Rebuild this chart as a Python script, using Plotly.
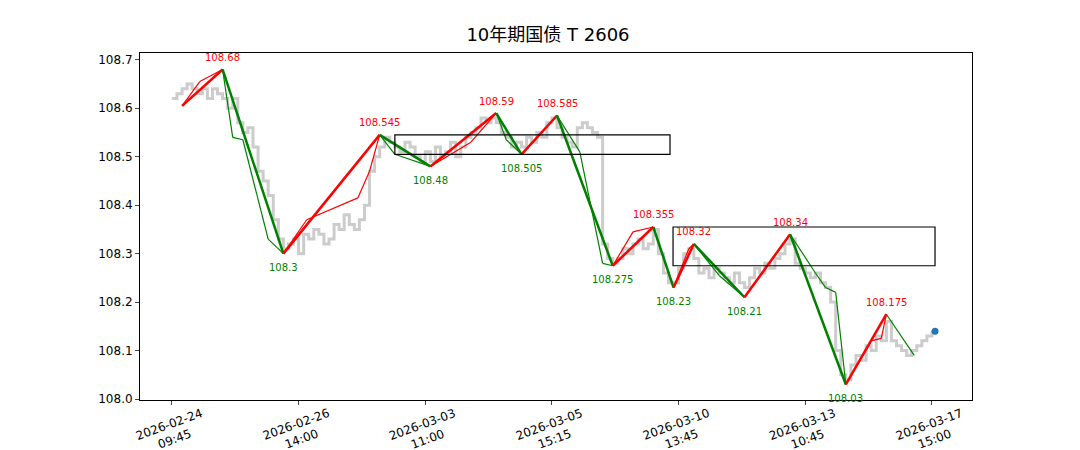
import plotly.graph_objects as go

# gray price series (one value per bar)
closes = [108.62, 108.63, 108.64, 108.65, 108.64, 108.63, 108.64, 108.62, 108.64, 108.63,
          108.62, 108.60, 108.62, 108.57, 108.55, 108.56, 108.52, 108.47, 108.45, 108.42,
          108.37, 108.33, 108.31, 108.32, 108.33, 108.30, 108.34, 108.33, 108.35, 108.34,
          108.32, 108.33, 108.36, 108.35, 108.38, 108.36, 108.35, 108.37, 108.40, 108.47,
          108.50, 108.52, 108.54, 108.53, 108.52, 108.51, 108.53, 108.52, 108.50, 108.49,
          108.51, 108.49, 108.52, 108.50, 108.51, 108.53, 108.50, 108.52, 108.54, 108.55,
          108.56, 108.58, 108.57, 108.58, 108.57, 108.55, 108.54, 108.52, 108.53, 108.52,
          108.54, 108.53, 108.55, 108.54, 108.57, 108.58, 108.56, 108.54, 108.53, 108.52,
          108.56, 108.57, 108.56, 108.55, 108.54, 108.32, 108.29, 108.28, 108.29, 108.31,
          108.30, 108.32, 108.33, 108.31, 108.32, 108.35, 108.30, 108.26, 108.24, 108.24,
          108.27, 108.30, 108.31, 108.29, 108.26, 108.27, 108.25, 108.27, 108.26, 108.25,
          108.24, 108.26, 108.24, 108.23, 108.25, 108.27, 108.26, 108.28, 108.27, 108.29,
          108.30, 108.32, 108.33, 108.28, 108.27, 108.26, 108.25, 108.26, 108.24, 108.23,
          108.20, 108.10, 108.05, 108.04, 108.07, 108.09, 108.08, 108.11, 108.10, 108.13,
          108.12, 108.16, 108.12, 108.11, 108.10, 108.09, 108.10, 108.11, 108.12, 108.13,
          108.14]
bar_idx = list(range(len(closes)))

# main zigzag pivots
piv_x = [2, 10, 22, 41, 51, 64, 69, 76, 87, 95, 99, 103, 113, 122, 133, 141]
piv_y = [108.605, 108.68, 108.3, 108.545, 108.48, 108.59, 108.505, 108.585,
         108.275, 108.355, 108.23, 108.32, 108.21, 108.34, 108.03, 108.175]

# finer zigzag
sub_x = [2, 5.5, 10, 12, 14, 19, 22, 26.6, 36.7, 39, 41, 44, 51, 59, 64, 66, 69, 76,
         80.5, 85, 87, 91, 95, 99, 102, 103, 108, 113, 122, 127, 129, 131, 133, 138,
         140, 141, 146.5]
sub_y = [108.605, 108.655, 108.68, 108.54, 108.535, 108.33, 108.3, 108.37, 108.415,
         108.47, 108.545, 108.505, 108.48, 108.53, 108.59, 108.535, 108.505, 108.585,
         108.51, 108.28, 108.275, 108.345, 108.355, 108.23, 108.31, 108.32, 108.255,
         108.21, 108.34, 108.26, 108.23, 108.22, 108.03, 108.12, 108.125, 108.175, 108.09]

# pivot zones: (x0, x1, y0, y1)
zones = [(44, 98.3, 108.505, 108.545), (98.9, 150.6, 108.275, 108.355)]

tick_pos = [0, 25, 50, 75, 100, 125, 150]
tick_txt = ['2026-02-24<br>09:45', '2026-02-26<br>14:00', '2026-03-03<br>11:00',
            '2026-03-05<br>15:15', '2026-03-10<br>13:45', '2026-03-13<br>10:45',
            '2026-03-17<br>15:00']
last_price = 108.14

RED, GREEN = '#ff0000', '#008000'

fig = go.Figure()
fig.add_trace(go.Scatter(x=bar_idx, y=closes, mode='lines', line_shape='hv',
                         line=dict(color='#cccccc', width=3), hoverinfo='skip'))


def seg_color(y0, y1):
    return RED if y1 > y0 else GREEN


for xs, ys, w in [(sub_x, sub_y, 1.2), (piv_x, piv_y, 2.5)]:
    for i in range(len(xs) - 1):
        fig.add_trace(go.Scatter(x=xs[i:i + 2], y=ys[i:i + 2], mode='lines',
                                 line=dict(color=seg_color(ys[i], ys[i + 1]), width=w)))

for i in range(1, len(piv_x)):
    high = piv_y[i] > piv_y[i - 1]
    fig.add_annotation(x=piv_x[i], y=piv_y[i], text=f'{piv_y[i]:g}', showarrow=False,
                       yshift=12 if high else -14, font=dict(size=10, color=RED if high else GREEN))

for x0, x1, y0, y1 in zones:
    fig.add_shape(type='rect', x0=x0, x1=x1, y0=y0, y1=y1,
                  line=dict(color='black', width=1.2))

# x tick labels, centred under the tick and slightly rotated
for p, t in zip(tick_pos, tick_txt):
    fig.add_annotation(x=p, y=0, xref='x', yref='paper', text=t, showarrow=False,
                       textangle=-20, yanchor='top', yshift=-3, font=dict(size=12))

fig.add_trace(go.Scatter(x=[150.6], y=[last_price], mode='markers',
                         marker=dict(color='#1f77b4', size=7)))

fig.update_layout(
    width=1080, height=450, showlegend=False, plot_bgcolor='white', paper_bgcolor='white',
    margin=dict(l=132, r=116, t=45, b=58),
    title=dict(text='10年期国债 T 2606', x=0.5, y=0.955, xanchor='center',
               font=dict(size=18, color='black', family='DejaVu Sans, Noto Sans CJK SC')),
    font=dict(family='DejaVu Sans', size=12, color='black'),
    xaxis=dict(range=[-6.3, 157.9], tickvals=tick_pos, ticktext=[''] * len(tick_pos),
               automargin=False, showgrid=False, zeroline=False, showline=True, mirror=True,
               linecolor='black', ticks='outside', ticklen=4),
    yaxis=dict(range=[107.998, 108.714], tickvals=[108.0, 108.1, 108.2, 108.3, 108.4, 108.5, 108.6, 108.7],
               ticktext=['108.0', '108.1', '108.2', '108.3', '108.4', '108.5', '108.6', '108.7'],
               automargin=False, showgrid=False, zeroline=False, showline=True, mirror=True,
               linecolor='black', ticks='outside', ticklen=4),
)
fig.write_html('out.html')
